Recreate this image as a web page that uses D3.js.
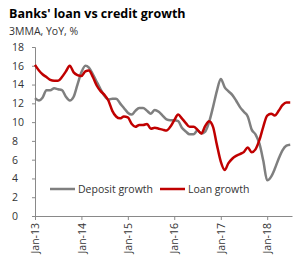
<!DOCTYPE html>
<meta charset="utf-8">
<html>
<head>
    <script src="https://d3js.org/d3.v7.min.js"></script>
    <style>
        body { margin: 0; background: #fff; }
        text { font-family: "Open Sans", "Noto Sans", sans-serif; }
    </style>
</head>
<body>
    <div id="chart"></div>
    <script>
        // monthly, Jan-13 .. Jul-18
        var startDate = new Date(2013, 0, 1);
        var deposit = [12.55, 12.3, 12.6, 13.4, 13.4, 13.6, 13.5, 13.4, 12.7, 12.3, 12.7, 14.0,
            15.3, 16.0, 15.8, 15.1, 14.3, 13.5, 12.8, 12.4, 12.5, 12.5, 12.0, 11.5,
            11.0, 10.8, 11.2, 11.5, 11.5, 11.2, 10.9, 11.3, 11.1, 10.7, 10.3, 10.2,
            10.2, 10.1, 9.4, 9.0, 8.7, 8.7, 9.1, 8.8, 9.0, 10.0, 11.6, 13.3,
            14.6, 13.7, 13.3, 12.9, 12.3, 11.6, 11.1, 10.6, 9.2, 8.7, 7.7, 5.9,
            3.8, 4.2, 5.0, 6.1, 7.0, 7.5, 7.6];
        var loan = [16.1, 15.5, 15.1, 14.8, 14.5, 14.4, 14.4, 14.8, 15.4, 16.0, 15.3, 15.0,
            14.9, 15.4, 15.5, 14.8, 13.9, 13.3, 12.9, 12.3, 11.2, 10.6, 10.4, 10.6,
            10.5, 9.8, 9.5, 9.7, 9.7, 9.8, 9.3, 9.4, 9.3, 9.2, 9.1, 9.5,
            10.2, 10.8, 10.4, 9.9, 9.5, 9.5, 9.2, 8.8, 9.6, 10.1, 9.5, 7.6,
            5.8, 4.9, 5.6, 6.1, 6.4, 6.6, 6.8, 7.3, 6.8, 7.1, 8.1, 9.5,
            10.7, 10.9, 10.7, 11.2, 11.8, 12.1, 12.1];
        var yTicks = [0, 2, 4, 6, 8, 10, 12, 14, 16, 18];
        var xTickYears = [2013, 2014, 2015, 2016, 2017, 2018];
        var seriesNames = ["Deposit growth", "Loan growth"];
        var seriesColors = ["#7f7f7f", "#c00000"];

        var W = 307, H = 269;
        var margin = { top: 47, right: 15, bottom: 53, left: 35 };
        var width = W - margin.left - margin.right;
        var height = H - margin.top - margin.bottom;

        var svg = d3.select("#chart").append("svg")
            .attr("width", W).attr("height", H);

        svg.append("text").attr("x", 9).attr("y", 18)
            .style("font-size", "12.5px").style("font-weight", "bold")
            .style("fill", "#000")
            .text("Banks' loan vs credit growth");
        svg.append("text").attr("x", 9).attr("y", 35)
            .style("font-size", "10.5px").style("fill", "#333")
            .text("3MMA, YoY, %");

        var g = svg.append("g")
            .attr("transform", "translate(" + margin.left + "," + margin.top + ")");

        var dateOf = function (i) { return d3.timeMonth.offset(startDate, i); };
        var x = d3.scaleTime()
            .domain([startDate, new Date(2018, 6, 15)])
            .range([0, width]);
        var y = d3.scaleLinear().domain([0, 18]).range([height, 0]);

        // Y axis
        var yAxis = g.append("g")
            .call(d3.axisLeft(y).tickValues(yTicks).tickSize(3).tickFormat(d3.format("d")));
        yAxis.select(".domain").attr("stroke", "#898989");
        yAxis.selectAll(".tick line").attr("stroke", "#898989");
        yAxis.selectAll(".tick text")
            .attr("x", -23).style("text-anchor", "start")
            .style("font-size", "10.5px").style("font-family", "Open Sans").attr("fill", "#333");

        // X axis
        var xAxis = g.append("g")
            .attr("transform", "translate(0," + height + ")")
            .call(d3.axisBottom(x)
                .tickValues(xTickYears.map(function (yr) { return new Date(yr, 0, 1); }))
                .tickSize(4).tickSizeOuter(0)
                .tickFormat(d3.timeFormat("%b-%y")));
        xAxis.select(".domain").attr("stroke", "#898989");
        xAxis.selectAll(".tick line").attr("stroke", "#898989");
        xAxis.selectAll(".tick text")
            .attr("transform", "rotate(-90)")
            .attr("x", -7).attr("y", 0).attr("dy", "0.35em")
            .style("text-anchor", "end")
            .style("font-size", "10.5px").style("font-family", "Open Sans").attr("fill", "#333");

        var line = d3.line()
            .x(function (d, i) { return x(dateOf(i)); })
            .y(function (d) { return y(d); })
            .curve(d3.curveMonotoneX);

        [deposit, loan].forEach(function (s, k) {
            g.append("path").datum(s)
                .attr("fill", "none")
                .attr("stroke", seriesColors[k])
                .attr("stroke-width", 2.5)
                .attr("stroke-linejoin", "round")
                .attr("d", line);
        });

        // legend
        var legendX = [50, 160];
        seriesNames.forEach(function (n, k) {
            var lg = svg.append("g").attr("transform", "translate(" + legendX[k] + ",189)");
            lg.append("line").attr("x1", 0).attr("x2", 25).attr("y1", 0).attr("y2", 0)
                .attr("stroke", seriesColors[k]).attr("stroke-width", 2.5);
            lg.append("text").attr("x", 28).attr("y", 0).attr("dy", "0.35em")
                .style("font-size", "10.5px").style("fill", "#333").text(n);
        });
    </script>
</body>
</html>
